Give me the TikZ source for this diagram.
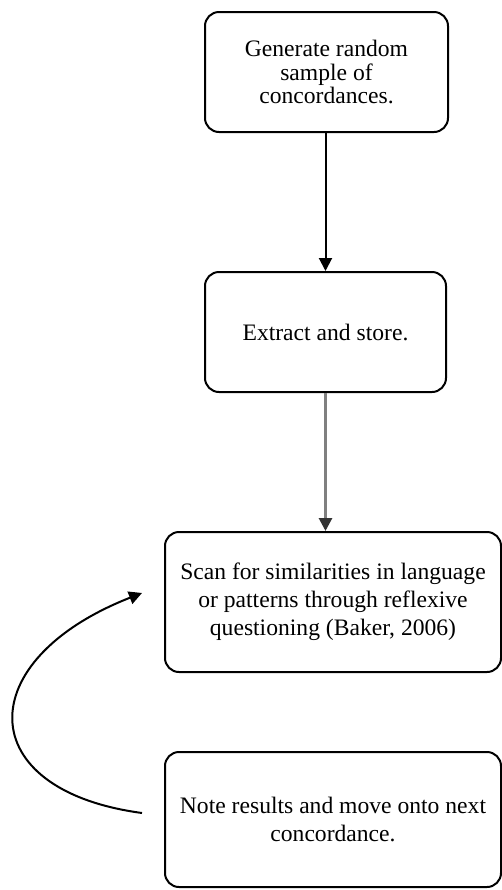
\documentclass[tikz,border=0pt]{standalone}
\usepackage{fontspec}
\setmainfont{Liberation Serif}
\usetikzlibrary{arrows.meta}

\begin{document}
\begin{tikzpicture}[x=0.5pt,y=-0.5pt,
        stage/.style={draw,line width=1pt,rounded corners=7pt,align=center,inner sep=0pt,font=\fontsize{11.8}{14}\selectfont},
        flow/.style={-{Triangle[length=6.5pt,width=6.5pt]},line width=1pt}]
        \useasboundingbox (0,0) rectangle (502,890);
        \node [stage,minimum width=121.5pt,minimum height=60pt,font=\fontsize{11.8}{11.8}\selectfont] (generate) at (326.5,72) {Generate random\\sample of\\concordances.};
        \node [stage,minimum width=120.5pt,minimum height=60pt] (extract) at (325.5,332) {Extract and store.};
        \node [stage,minimum width=168pt,minimum height=70pt] (scan) at (333,602) {Scan for similarities in language\\or patterns through reflexive\\questioning (Baker, 2006)};
        \node [stage,minimum width=168pt,minimum height=67.5pt] (note) at (333,819.5) {Note results and move onto next\\concordance.};
        \draw [flow] (extract.north |- generate.south) - - (extract.north) ;
        \draw [flow,gray,line width=1.4pt,-{Triangle[length=6.5pt,width=6.5pt,color=black!80]}] (extract.south) - - (extract.south |- scan.north) ;
        \draw [flow] ([xshift=-11pt,yshift=3.25pt]note.west) .. controls (-29,790) and (-29,660) .. ([xshift=-11pt,yshift=4.5pt]scan.west) ;
        \end{tikzpicture}
\end{document}
